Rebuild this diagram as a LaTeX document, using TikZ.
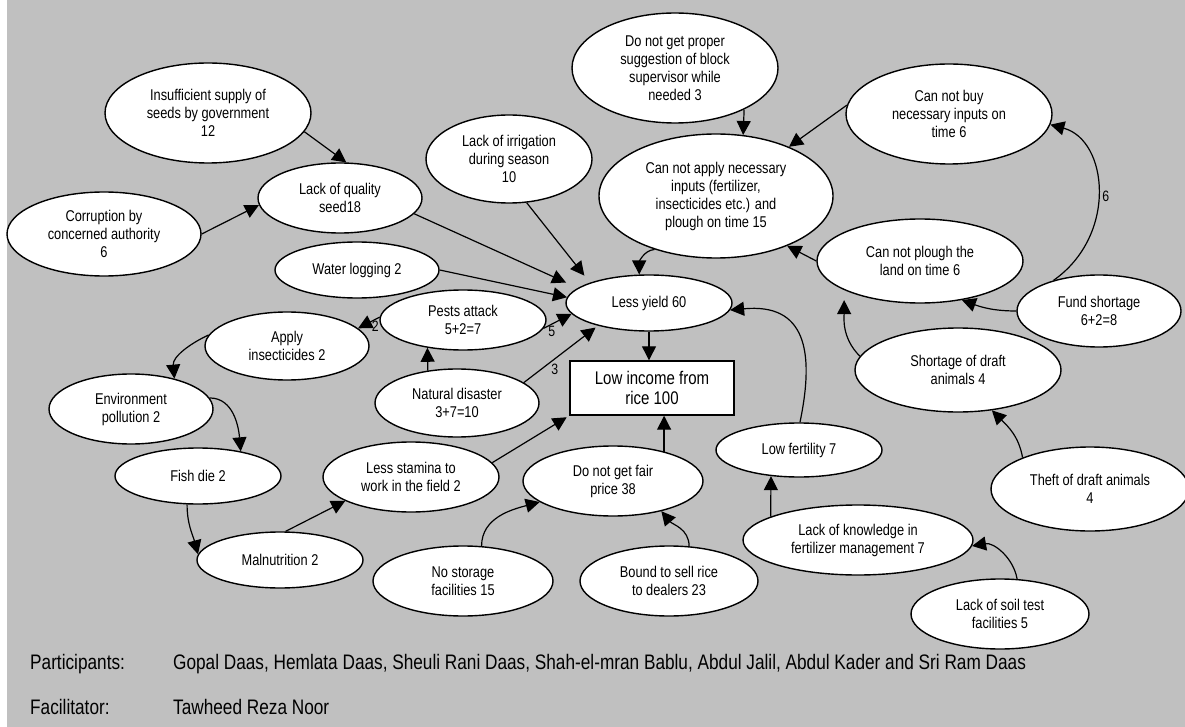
\documentclass[tikz,border=0pt]{standalone}
\usepackage{fontspec}
\setmainfont{Liberation Sans}[FakeStretch=0.82]
\usetikzlibrary{shapes.geometric,arrows.meta}
\definecolor{bg}{RGB}{192,192,192}
\begin{document}
\begin{tikzpicture}[x=1pt,y=1pt,
  el/.style={ellipse, draw, fill=white, line width=1.4pt, inner sep=0pt, align=center,
    font=\fontsize{15.6}{18}\selectfont},
  box/.style={rectangle, draw, fill=white, line width=1.4pt, inner sep=0pt, align=center,
    font=\fontsize{18.3}{20}\selectfont},
  conn/.style={line width=1.2pt, -{Triangle[length=14pt,width=14pt]}},
  lbl/.style={font=\fontsize{15}{17}\selectfont, inner sep=1pt},
  foot/.style={anchor=base west, inner sep=0pt, font=\fontsize{21}{24}\selectfont}]
\useasboundingbox (0,0) rectangle (1185,-727);
\fill[white] (0,0) rectangle (1185,-727);
\fill[bg] (7,0) rectangle (1185,-727);

% nodes
\node[el,minimum width=206pt,minimum height=100pt] (ins) at (208,-113) {Insufficient supply of\\seeds by government\\12};
\node[el,minimum width=164pt,minimum height=70pt] (lqs) at (340,-198) {Lack of quality\\seed18};
\node[el,minimum width=194pt,minimum height=84pt] (cor) at (104,-234) {Corruption by\\concerned authority\\6};
\node[el,minimum width=166pt,minimum height=88pt] (irr) at (509,-159) {Lack of irrigation\\during season\\10};
\node[el,minimum width=206pt,minimum height=110pt] (dng) at (675,-68) {Do not get proper\\suggestion of block\\supervisor while\\needed 3};
\node[el,minimum width=234pt,minimum height=124pt] (cap) at (716,-196) {Can not apply necessary\\inputs (fertilizer,\\insecticides etc.) and\\plough on time 15};
\node[el,minimum width=206pt,minimum height=100pt] (cnb) at (949,-114) {Can not buy\\necessary inputs on\\time 6};
\node[el,minimum width=206pt,minimum height=84pt] (cnp) at (920,-261) {Can not plough the\\land on time 6};
\node[el,minimum width=164pt,minimum height=72pt] (fund) at (1099,-311) {Fund shortage\\6+2=8};
\node[el,minimum width=206pt,minimum height=84pt] (sda) at (958,-370) {Shortage of draft\\animals 4};
\node[el,minimum width=198pt,minimum height=84pt] (theft) at (1090,-489) {Theft of draft animals\\4};
\node[el,minimum width=166pt,minimum height=54pt] (lowf) at (799,-450) {Low fertility 7};
\node[el,minimum width=230pt,minimum height=70pt] (lkf) at (858,-540) {Lack of knowledge in\\fertilizer management 7};
\node[el,minimum width=178pt,minimum height=70pt] (soil) at (1000,-614) {Lack of soil test\\facilities 5};
\node[el,minimum width=178pt,minimum height=70pt] (bound) at (669,-581) {Bound to sell rice\\to dealers 23};
\node[el,minimum width=180pt,minimum height=70pt] (nostor) at (463,-581) {No storage\\facilities 15};
\node[el,minimum width=180pt,minimum height=70pt] (fair) at (613,-481) {Do not get fair\\price 38};
\node[el,minimum width=176pt,minimum height=70pt] (stam) at (411,-477) {Less stamina to\\work in the field 2};
\node[el,minimum width=166pt,minimum height=56pt] (maln) at (280,-560) {Malnutrition 2};
\node[el,minimum width=166pt,minimum height=56pt] (fish) at (198,-476) {Fish die 2};
\node[el,minimum width=164pt,minimum height=70pt] (env) at (131,-409) {Environment\\pollution 2};
\node[el,minimum width=164pt,minimum height=68pt] (apply) at (287,-346) {Apply\\insecticides 2};
\node[el,minimum width=164pt,minimum height=68pt] (nat) at (457,-403) {Natural disaster\\3+7=10};
\node[el,minimum width=166pt,minimum height=60pt] (pest) at (463,-320) {Pests attack\\5+2=7};
\node[el,minimum width=164pt,minimum height=56pt] (water) at (357,-270) {Water logging 2};
\node[el,minimum width=166pt,minimum height=56pt] (yield) at (649,-303) {Less yield 60};
\node[box,minimum width=164pt,minimum height=54pt] (income) at (652,-388) {Low income from\\rice 100};

% connectors
\draw[conn] (ins.-11) -- (lqs.80);
\draw[conn] (cor.0) -- (lqs.185);
\draw[conn, shorten >=13pt] (lqs.-12) -- (yield.168);
\draw[conn, shorten >=9pt] (irr.-68) -- (yield.161);
\draw[conn] (water.0) -- (yield.176);
\draw[conn] (pest.-6) -- node[lbl,pos=0.3,below]{5} (yield.188);
\draw[conn, shorten >=3pt] (nat.17) -- node[lbl,pos=0.35,below right]{3} (yield.204);
\draw[conn] (cap.221) to[out=185,in=90] (yield.109);
\draw[conn] (lowf.88) .. controls (815,-350) and (805,-303) .. (yield.-5);
\draw[conn] (yield.south) -- (yield.south |- income.north);
\draw[conn, shorten >=3pt] (stam.10) -- (income.south west);
\draw[conn] (fair.30) -- (fair.30 |- income.south);
\draw[conn] (nat.132) -- (pest.218);
\draw[conn] (pest.178) -- node[lbl,pos=0.2,below]{2} (apply.14);
\draw[conn] (apply.172) to[out=205,in=95] (env.35);
\draw[conn] (env.8) to[out=0,in=95] (fish.30);
\draw[conn] (fish.249) to[out=270,in=105] (maln.176);
\draw[conn] (maln.79) -- (stam.200);
\draw[conn] (nostor.62) to[out=90,in=195] (fair.196);
\draw[conn] (bound.60) to[out=90,in=-50] (fair.-32);
\draw[conn] (lkf.165) -- (lowf.223);
\draw[conn] (soil.64) to[out=100,in=10] (lkf.-3);
\draw[conn] (theft.155) to[out=100,in=-45] (sda.-50);
\draw[conn, shorten >=10pt] (sda.172) to[out=135,in=-90] (cnp.201);
\draw[conn] (fund.180) to[out=180,in=-20] (cnp.-43);
\draw[conn] (fund.146) .. controls (1118,-235) and (1108,-140) .. node[lbl,right,xshift=3pt,yshift=-5pt]{6} (cnb.-6);
\draw[conn] (cnb.175) -- (cap.34);
\draw[conn] (dng.-31) -- (cap.66);
\draw[conn] (cnp.180) -- (cap.-35);

% footer
\node[foot] (plab) at (30,-669) {Participants:};
\node[foot] (ptxt) at (173,-669) {Gopal Daas, Hemlata Daas, Sheuli Rani Daas, Shah-el-mran Bablu, Abdul Jalil, Abdul Kader and Sri Ram Daas};
\node[foot] (flab) at (30,-714) {Facilitator:};
\node[foot] (ftxt) at (173,-714) {Tawheed Reza Noor};
\end{tikzpicture}
\end{document}
